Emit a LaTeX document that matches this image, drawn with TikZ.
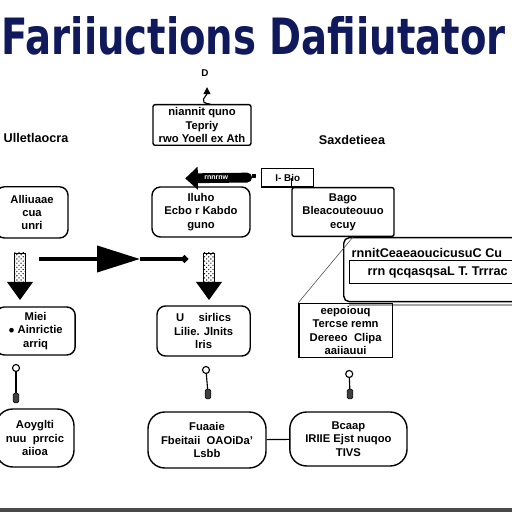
\documentclass[tikz,border=0pt]{standalone}
\usepackage{graphicx}
\usepackage{fontspec}
\setmainfont{Liberation Sans}
\newfontfamily\titlefont{DejaVu Sans}
\usetikzlibrary{arrows.meta,patterns}
\definecolor{ttlNavy}{HTML}{10195C}
\definecolor{edgeGray}{HTML}{4A4A4A}

\begin{document}
\begin{tikzpicture}[
  ttl/.style={anchor=south, inner sep=0pt, text=ttlNavy},
  lbl/.style={font=\fontsize{9}{10}\selectfont\bfseries, inner sep=1pt},
  box/.style={draw, line width=1pt, rounded corners=6pt,
              font=\fontsize{8}{9.5}\selectfont\bfseries, align=center, inner sep=2pt},
  sbox/.style={box, rounded corners=1.5pt},
  rbox/.style={box, rounded corners=12pt},
  tag/.style={draw, line width=0.8pt, font=\fontsize{7}{8}\selectfont\bfseries,
              minimum width=1.3cm, minimum height=0.47cm, inner sep=1pt},
  fat/.style={draw, line width=0.6pt, pattern=crosshatch dots},
  knob/.style={circle, draw, line width=0.8pt, minimum size=5pt, inner sep=0pt},
  bulb/.style={draw, fill=black!75, minimum width=4pt, minimum height=7pt,
               inner sep=0pt, rounded corners=1pt},
  link/.style={line width=0.8pt}
]
\useasboundingbox (0,0) rectangle (12.8,12.8);
\clip (0,0) rectangle (12.8,12.8);

% title
\node[ttl] (title) at (6.34,11.4)
  {\resizebox{12.6cm}{0.95cm}{\titlefont\bfseries Fariiuctions Dafiiutator}};

% top row
\node[font=\fontsize{7}{7}\selectfont\bfseries, inner sep=0pt] (dmark) at (5.125,10.97) {D};
\coordinate (dtip) at (5.175,10.62);
\node[sbox, minimum width=2.45cm, minimum height=0.95cm] (topbox) at (5.05,9.675)
  {niannit quno\\ Tepriy\\ rwo Yoell ex Ath};
\node[lbl] (lhead) at (0.9,9.35) {Ulletlaocra};
\node[lbl] (rhead) at (8.8,9.3) {Saxdetieea};
\node[tag, anchor=west] (tag) at (6.53,8.36) {I- Bio};
\coordinate (tagtip) at (4.63,8.34);

% second row
\node[box, minimum width=1.8cm, minimum height=1.28cm] (lbox1) at (0.8,7.49)
  {Alliuaae\\ cua\\ unri};
\node[box, minimum width=2.45cm, minimum height=1.25cm] (mbox1) at (5.025,7.5)
  {Iluho\\ Ecbo r Kabdo\\ guno};
\node[sbox, minimum width=2.55cm, minimum height=1.22cm] (rbox1) at (8.575,7.5)
  {Bago\\ Bleacouteouuo\\ ecuy};

% side panel
\node[draw, line width=1pt, rounded corners=4pt, anchor=north west,
      minimum width=5.2cm, minimum height=1.6cm] (panel) at (8.575,6.875) {};
\draw[edgeGray!50, line width=1.5pt] ([yshift=-2pt,xshift=4pt]panel.south west) -- ([yshift=-2pt]panel.south east);
\node[draw, line width=0.8pt, anchor=north west, minimum width=4.6cm,
      minimum height=0.58cm] (inner) at (8.725,6.3) {};
\node[lbl, anchor=west] (pline1) at (8.75,6.48) {rnnitCeaeaoucicusuC Cu};
\node[lbl, anchor=west] (pline2) at (9.15,5.99) {rrn qcqasqsaL T. Trrrac};

% thick arrow to the middle column
\draw[line width=7pt, line cap=round, -{Triangle[length=9pt,width=16pt]}]
  ([xshift=-0.35cm]tag.west) -- (tagtip)
  node[midway, text=white, font=\fontsize{5}{5}\selectfont\bfseries] {rnnrnw};
\fill ([xshift=-0.12cm]tag.west) rectangle ++(-0.1,0.1);
\draw[link] (rbox1.north west) -- (rbox1.north west |- tag.center);
\draw[link, -{Triangle[length=5pt,width=5pt]}] ([xshift=6pt]topbox.north)
  .. controls +(-0.35,0.02) and +(0,-0.2) .. (dtip);

% fat arrows and the cross arrow
\draw[fat] (0.36,6.475) rectangle (0.64,5.75);
\fill (0.175,5.75) -- (0.825,5.75) -- (0.5,5.3) -- cycle;
\draw[fat] (5.085,6.475) rectangle (5.365,5.75);
\fill (4.9,5.75) -- (5.55,5.75) -- (5.225,5.3) -- cycle;
\coordinate (hl) at (0.975,6.325);
\coordinate (hm) at (3.5,6.325);
\coordinate (hr) at (4.7,6.325);
\draw[line width=2.8pt, -{Triangle[length=1.075cm,width=0.65cm]}] (hl) -- (hm);
\draw[line width=2.4pt, -{Circle[length=5pt]}] (hm) -- (hr);

% third row
\node[box, minimum width=1.98cm, minimum height=1.2cm] (lbox2) at (0.89,4.525)
  {Miei\\ $\bullet$ Ainrictie\\ arriq};
\node[box, minimum width=2.33cm, minimum height=1.25cm] (mbox2) at (5.09,4.525)
  {U \quad sirlics\\ Lilie. Jlnits\\ lris};
\node[sbox, rounded corners=0pt, minimum width=2.33cm, minimum height=1.33cm] (rbox2) at (8.64,4.54)
  {eepoiouq\\ Tercse remn\\ Dereeo \ Clipa\\ aaiiauui};
\draw[edgeGray, thin] ([xshift=0.25cm]panel.north west) -- (rbox2.north west);

% pendants
\node[knob] (k1) at (0.4,3.6) {};
\node[bulb] (b1) at (0.4,2.85) {};
\node[knob] (k2) at (5.15,3.55) {};
\node[bulb] (b2) at (5.2,2.95) {};
\node[knob] (k3) at (8.73,3.45) {};
\node[bulb] (b3) at (8.75,2.95) {};
\draw[link] (k1) -- (b1);
\draw[link] (k2) -- (b2);
\draw[link] (k3) -- (b3);

% bottom row
\node[rbox, minimum width=1.95cm, minimum height=1.45cm] (lbox3) at (0.875,1.85)
  {Aoyglti\\ nuu \ prrcic\\ aiioa};
\node[rbox, minimum width=2.95cm, minimum height=1.4cm] (mbox3) at (5.175,1.8)
  {Fuaaie\\ Fbeitaii \ OAOiDa'\\ Lsbb};
\node[rbox, minimum width=2.93cm, minimum height=1.35cm] (rbox3) at (8.71,1.825)
  {Bcaap\\ IRIIE Ejst nuqoo\\ TIVS};
\draw[link] (mbox3) -- (rbox3);

\draw[edgeGray, line width=2.5pt] (0,0.05) -- (12.8,0.05);
\end{tikzpicture}
\end{document}
